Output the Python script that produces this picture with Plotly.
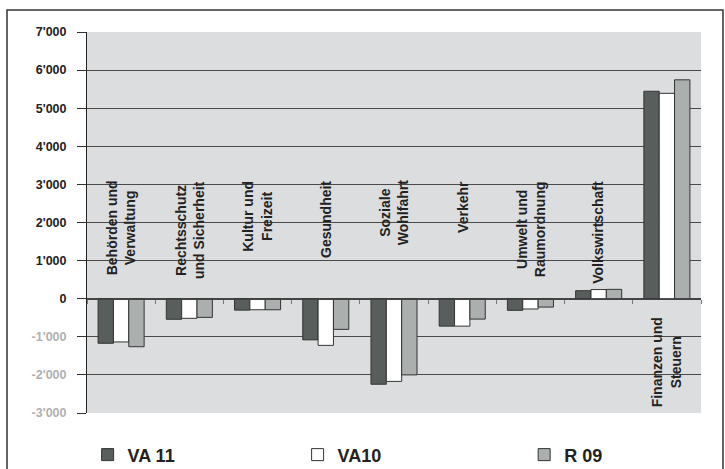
import plotly.graph_objects as go

categories = ["Behörden und Verwaltung", "Rechtsschutz und Sicherheit", "Kultur und Freizeit",
              "Gesundheit", "Soziale Wohlfahrt", "Verkehr", "Umwelt und Raumordnung",
              "Volkswirtschaft", "Finanzen und Steuern"]
category_labels = ["Behörden und<br>Verwaltung", "Rechtsschutz<br>und Sicherheit", "Kultur und<br>Freizeit",
                   "Gesundheit", "Soziale<br>Wohlfahrt", "Verkehr", "Umwelt und<br>Raumordnung",
                   "Volkswirtschaft", "Finanzen und<br>Steuern"]
va11 = [-1170, -540, -300, -1080, -2245, -720, -305, 210, 5445]
va10 = [-1135, -515, -290, -1225, -2170, -720, -270, 240, 5390]
r09 = [-1260, -490, -290, -805, -2000, -535, -220, 245, 5745]
series_names = ["VA 11", "VA10", "R 09"]
tick_values = [-3000, -2000, -1000, 0, 1000, 2000, 3000, 4000, 5000, 6000, 7000]
tick_labels = ["-3'000", "-2'000", "-1'000", "0", "1'000", "2'000", "3'000", "4'000", "5'000", "6'000", "7'000"]

FONT = "Liberation Sans, Arial, sans-serif"
colors = ["#575e5b", "#ffffff", "#abb0af"]
legend_ids = ["legend", "legend2", "legend3"]
legend_x = [0.001, 0.343, 0.712]

fig = go.Figure()
for name, vals, col, lid in zip(series_names, [va11, va10, r09], colors, legend_ids):
    fig.add_trace(go.Bar(x=categories, y=vals, name=name, legend=lid,
                         marker=dict(color=col, line=dict(color="#333333", width=1))))

ticktext = [(f"<span style='color:#b0b0b0'>{t}</span>" if v < 0 else t)
            for v, t in zip(tick_values, tick_labels)]

annotations = []
for cat, lab, a, b, c in zip(categories, category_labels, va11, va10, r09):
    if max(a, b, c) > 1000:
        y = -440
    else:
        y = 3150
    annotations.append(dict(x=cat, y=y, xref="x", yref="y", text=lab, textangle=-90,
                            showarrow=False, yanchor="top", xanchor="center", align="center",
                            font=dict(family=FONT, size=14, color="#222222", weight="bold")))

legend_common = dict(orientation="h", y=-0.11, xanchor="left", yanchor="middle",
                     font=dict(family=FONT, size=18, color="#222222", weight="bold"),
                     bgcolor="rgba(0,0,0,0)")

fig.update_layout(
    width=725, height=469,
    margin=dict(l=87, r=24, t=32, b=56, autoexpand=False),
    paper_bgcolor="white", plot_bgcolor="#dcdddf",
    barmode="group", bargap=0.325, bargroupgap=0,
    font=dict(family=FONT, color="#222222"),
    showlegend=True,
    legend=dict(x=legend_x[0], **legend_common),
    legend2=dict(x=legend_x[1], **legend_common),
    legend3=dict(x=legend_x[2], **legend_common),
    annotations=annotations,
    shapes=[dict(type="rect", xref="paper", yref="paper", x0=-0.1303, x1=1.0358, y0=-0.2, y1=1.0577,
                 line=dict(color="#333333", width=1.5), fillcolor="rgba(0,0,0,0)", layer="above")],
    xaxis=dict(type="category", anchor="free", position=0.3, showline=True, linecolor="#444444",
               linewidth=1, ticks="outside", ticklen=4, tickcolor="#777777", tickson="boundaries",
               showticklabels=False, showgrid=False, zeroline=False),
    yaxis=dict(range=[-3000, 7000], tickvals=tick_values, ticktext=ticktext,
               showgrid=True, gridcolor="#4a4a4a", gridwidth=1.2,
               zeroline=True, zerolinecolor="#444444", zerolinewidth=1,
               showline=True, linecolor="#222222", linewidth=1,
               ticks="outside", ticklen=9, tickcolor="#333333", ticklabelstandoff=8,
               tickfont=dict(family=FONT, size=12.5, color="#222222", weight="bold")),
)

fig.write_html("out.html", config={"displayModeBar": False},
               post_script="document.body.style.margin='0';document.body.style.overflow='hidden';")
